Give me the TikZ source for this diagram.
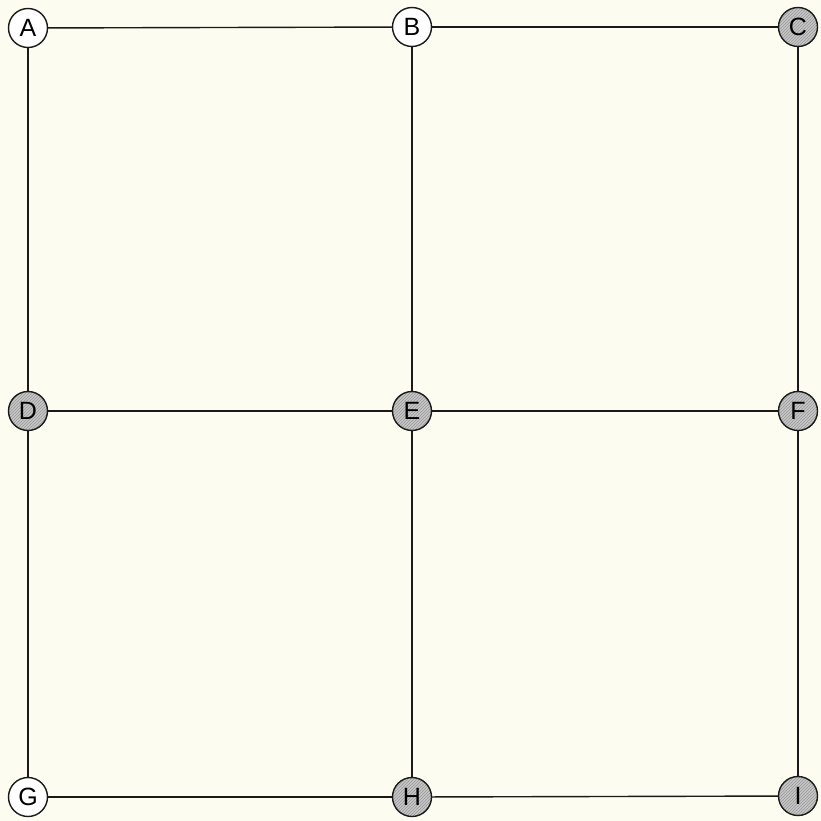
\documentclass[tikz,border=0pt]{standalone}
\usepackage{fontspec}
\setmainfont{Liberation Sans}
\usetikzlibrary{patterns}
\definecolor{paper}{HTML}{FDFCF1}
\definecolor{ink}{HTML}{1A1A1A}
\tikzset{
  vtx/.style={circle, draw=ink, line width=1.4pt, minimum size=39pt, inner sep=0pt, fill=white,
    font=\fontsize{25}{26}\selectfont},
  hot/.style={vtx, fill=none, preaction={fill=gray!45}, pattern=north east lines, pattern color=gray!80},
  edge/.style={draw=ink, line width=1.4pt}
}
\begin{document}
\begin{tikzpicture}[x=1pt,y=-1pt]
\fill[paper] (0,0) rectangle (821,821);
\useasboundingbox (0,0) rectangle (821,821);
\node[vtx] (A) at (28,28) {A};
\node[vtx] (B) at (412,27) {B};
\node[hot] (C) at (798,27) {C};
\node[hot] (D) at (28,411) {D};
\node[hot] (E) at (412,411) {E};
\node[hot] (F) at (798,411) {F};
\node[vtx] (G) at (28,797) {G};
\node[hot] (H) at (412,797) {H};
\node[hot] (I) at (798,796) {I};
\draw[edge] (A) -- (B);
\draw[edge] (B) -- (C);
\draw[edge] (D) -- (E);
\draw[edge] (E) -- (F);
\draw[edge] (G) -- (H);
\draw[edge] (H) -- (I);
\draw[edge] (A) -- (D);
\draw[edge] (D) -- (G);
\draw[edge] (B) -- (E);
\draw[edge] (E) -- (H);
\draw[edge] (C) -- (F);
\draw[edge] (F) -- (I);
\end{tikzpicture}
\end{document}
